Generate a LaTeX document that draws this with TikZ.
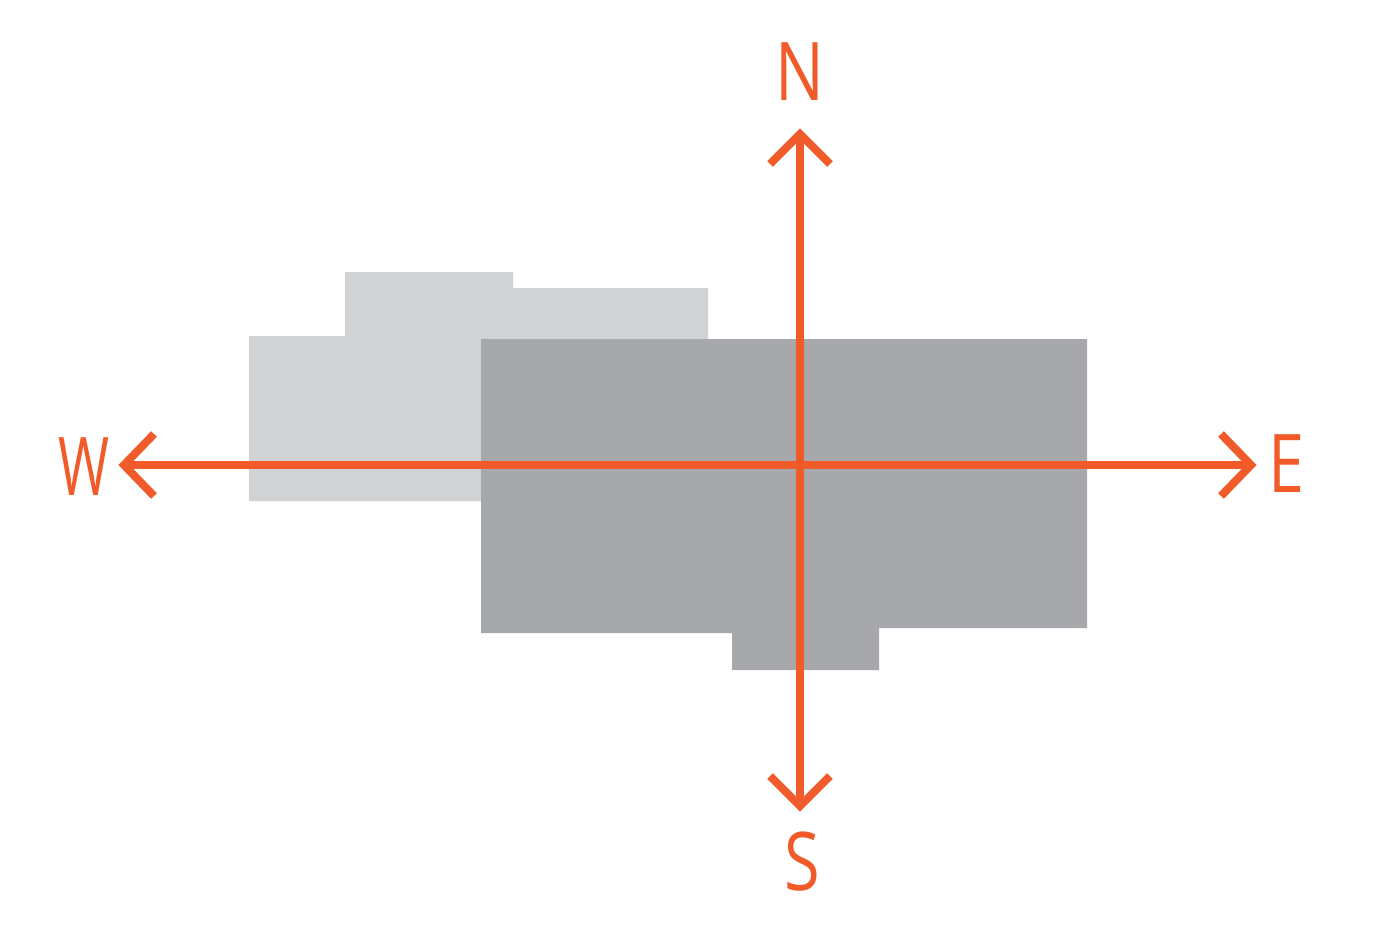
\documentclass[tikz,border=0pt]{standalone}
\usepackage{fontspec}
\setmainfont{Open Sans}
\definecolor{compass}{HTML}{F15A29}
\definecolor{lightbldg}{HTML}{D1D2D4}
\definecolor{darkbldg}{HTML}{A7A8AB}
\begin{document}
\begin{tikzpicture}[x=1pt,y=-1pt,
  axis/.style={draw=compass,line width=8pt},
  chevron/.style={draw=compass,line width=8pt,line join=miter},
  letter/.style={text=compass,font=\fontsize{81}{81}\selectfont,anchor=base,inner sep=0pt,xscale=0.8}]
\useasboundingbox (0,0) rectangle (1380,948);
% buildings
\fill[lightbldg] (249,501) -- (249,336) -- (345,336) -- (345,272) -- (513,272) -- (513,288) -- (708,288) -- (708,501) -- cycle;
\fill[darkbldg] (481,339) -- (1087,339) -- (1087,628) -- (879,628) -- (879,670) -- (732,670) -- (732,633) -- (481,633) -- cycle;
% axis ends
\coordinate (n) at (800,134);
\coordinate (s) at (800,806);
\coordinate (w) at (124,465);
\coordinate (e) at (1251,465);
\draw[axis] (n) -- (s);
\draw[axis] (w) -- (e);
\draw[chevron] ([shift={(-30,30)}]n) -- (n) -- ([shift={(30,30)}]n);
\draw[chevron] ([shift={(-30,-30)}]s) -- (s) -- ([shift={(30,-30)}]s);
\draw[chevron] ([shift={(30,-31)}]w) -- (w) -- ([shift={(30,31)}]w);
\draw[chevron] ([shift={(-30,-31)}]e) -- (e) -- ([shift={(-30,31)}]e);
% labels
\node[letter] (N) at (800,100) {N};
\node[letter] (S) at (802,890) {S};
\node[letter,xscale=0.85] (W) at (84,495) {W};
\node[letter] (E) at (1286,492) {E};
\end{tikzpicture}
\end{document}
